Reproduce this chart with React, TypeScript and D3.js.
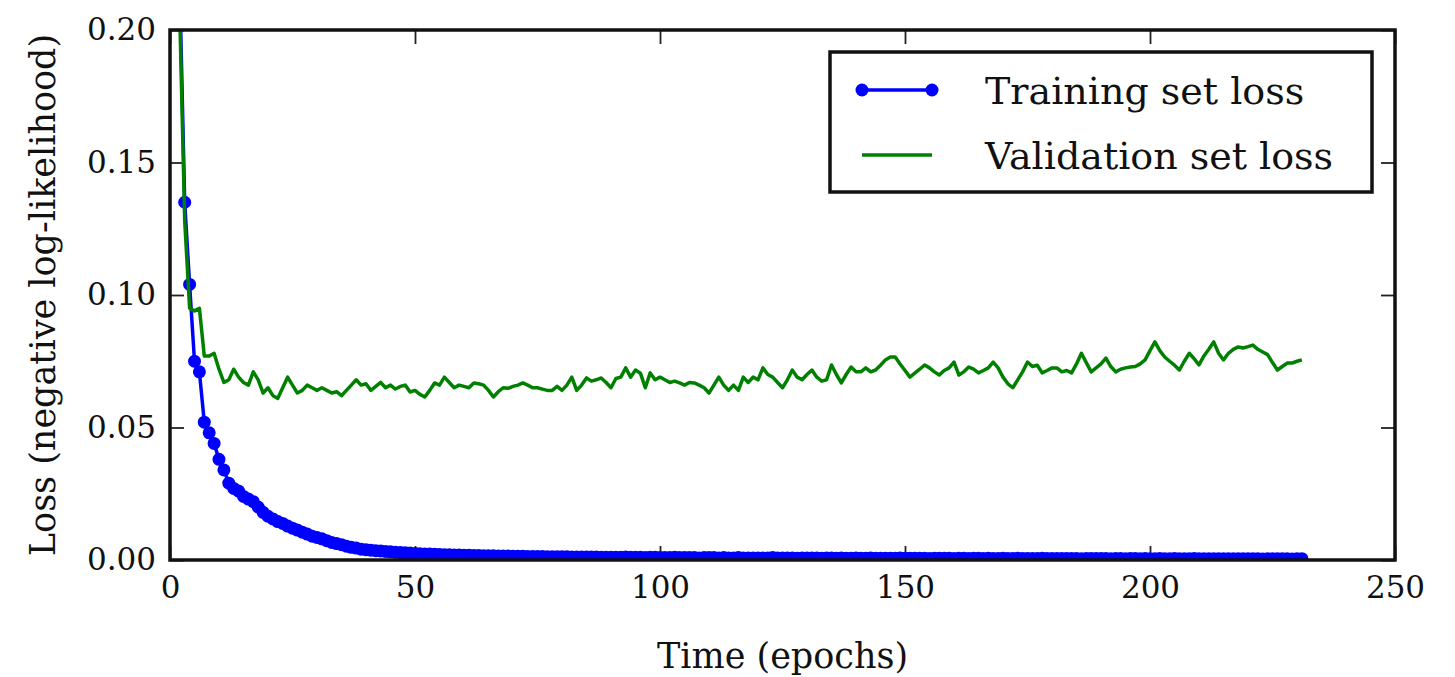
import React, { useEffect, useRef } from "react";
import * as d3 from "d3";

// loss per epoch (epoch 1 .. 231)
const trainingLoss = [
  0.45, 0.215, 0.135, 0.104, 0.075, 0.071, 0.052, 0.048, 0.044, 0.038,
  0.034, 0.029, 0.027, 0.026, 0.024, 0.023, 0.022, 0.02, 0.018, 0.0165,
  0.0155, 0.0145, 0.0138, 0.0128, 0.012, 0.0113, 0.0105, 0.0098, 0.009, 0.0085,
  0.008, 0.0073, 0.0066, 0.0062, 0.0058, 0.0052, 0.0048, 0.0045, 0.0041, 0.0039,
  0.0037, 0.0035, 0.0034, 0.0032, 0.0031, 0.0029, 0.0028, 0.0027, 0.0026, 0.0025,
  0.0024, 0.0023, 0.0023, 0.0022, 0.0021, 0.002, 0.002, 0.0019, 0.0019, 0.0018,
  0.0018, 0.0017, 0.0017, 0.0016, 0.0016, 0.0016, 0.0015, 0.0015, 0.0015, 0.0014,
  0.0014, 0.0014, 0.0013, 0.0013, 0.0013, 0.0013, 0.0012, 0.0012, 0.0012, 0.0012,
  0.0012, 0.0011, 0.0011, 0.0011, 0.0011, 0.0011, 0.0011, 0.001, 0.001, 0.001,
  0.001, 0.001, 0.0011, 0.001, 0.001, 0.001, 0.0009, 0.001, 0.001, 0.0009,
  0.0009, 0.0009, 0.001, 0.0009, 0.0009, 0.0009, 0.0009, 0.0008, 0.0009, 0.0009,
  0.0009, 0.0008, 0.0009, 0.0008, 0.0008, 0.0009, 0.0008, 0.0008, 0.0008, 0.0008,
  0.0008, 0.0008, 0.0009, 0.0008, 0.0008, 0.0008, 0.0008, 0.0007, 0.0008, 0.0008,
  0.0008, 0.0008, 0.0007, 0.0008, 0.0008, 0.0007, 0.0008, 0.0007, 0.0007, 0.0008,
  0.0007, 0.0007, 0.0008, 0.0007, 0.0007, 0.0007, 0.0007, 0.0007, 0.0008, 0.0007,
  0.0007, 0.0007, 0.0007, 0.0007, 0.0006, 0.0007, 0.0007, 0.0007, 0.0007, 0.0006,
  0.0007, 0.0007, 0.0006, 0.0007, 0.0007, 0.0006, 0.0007, 0.0006, 0.0006, 0.0007,
  0.0006, 0.0006, 0.0007, 0.0006, 0.0006, 0.0006, 0.0006, 0.0007, 0.0006, 0.0006,
  0.0006, 0.0006, 0.0006, 0.0006, 0.0006, 0.0005, 0.0006, 0.0006, 0.0006, 0.0006,
  0.0006, 0.0005, 0.0006, 0.0006, 0.0005, 0.0006, 0.0006, 0.0005, 0.0006, 0.0005,
  0.0005, 0.0006, 0.0005, 0.0005, 0.0006, 0.0005, 0.0005, 0.0005, 0.0006, 0.0005,
  0.0005, 0.0005, 0.0005, 0.0005, 0.0005, 0.0005, 0.0005, 0.0005, 0.0005, 0.0005,
  0.0005, 0.0005, 0.0004, 0.0005, 0.0005, 0.0005, 0.0005, 0.0005, 0.0004, 0.0005,
  0.0005,
];

const validationLoss = [
  0.33, 0.205, 0.128, 0.095, 0.094, 0.095, 0.077, 0.077, 0.078, 0.072,
  0.067, 0.068, 0.072, 0.069, 0.067, 0.066, 0.071, 0.068, 0.063, 0.065,
  0.062, 0.061, 0.065, 0.069, 0.066, 0.063, 0.064, 0.066, 0.065, 0.064,
  0.065, 0.064, 0.063, 0.0635, 0.062, 0.064, 0.066, 0.068, 0.066, 0.0665,
  0.064, 0.0655, 0.067, 0.065, 0.066, 0.0645, 0.0655, 0.066, 0.0634, 0.064,
  0.0625, 0.0615, 0.064, 0.0668, 0.066, 0.069, 0.067, 0.065, 0.066, 0.0655,
  0.065, 0.0668, 0.0665, 0.066, 0.064, 0.0615, 0.0635, 0.065, 0.0648, 0.0655,
  0.066, 0.0668, 0.066, 0.065, 0.065, 0.0645, 0.064, 0.064, 0.0655, 0.064,
  0.066, 0.069, 0.064, 0.066, 0.0687, 0.0675, 0.068, 0.0687, 0.067, 0.065,
  0.0685, 0.069, 0.0725, 0.069, 0.0717, 0.0705, 0.065, 0.0706, 0.068, 0.069,
  0.068, 0.067, 0.0675, 0.0668, 0.066, 0.067, 0.0668, 0.066, 0.065, 0.063,
  0.066, 0.069, 0.066, 0.064, 0.066, 0.064, 0.069, 0.067, 0.069, 0.068,
  0.0725, 0.07, 0.069, 0.067, 0.065, 0.068, 0.0717, 0.069, 0.068, 0.07,
  0.0717, 0.069, 0.0675, 0.068, 0.0736, 0.07, 0.0668, 0.07, 0.0728, 0.071,
  0.071, 0.0725, 0.071, 0.0717, 0.0735, 0.0755, 0.0766, 0.0766, 0.074, 0.0715,
  0.069, 0.0705, 0.072, 0.0736, 0.0725, 0.071, 0.0698, 0.0715, 0.0725, 0.0747,
  0.0698, 0.071, 0.0728, 0.072, 0.0706, 0.0715, 0.0725, 0.0747, 0.0725, 0.069,
  0.0665, 0.065, 0.068, 0.071, 0.0747, 0.073, 0.0735, 0.0706, 0.0715, 0.0725,
  0.0725, 0.071, 0.0715, 0.0706, 0.074, 0.078, 0.0745, 0.071, 0.0725, 0.074,
  0.0762, 0.073, 0.071, 0.072, 0.0725, 0.0728, 0.073, 0.074, 0.0755, 0.079,
  0.0823, 0.079, 0.0766, 0.075, 0.0735, 0.0717, 0.075, 0.078, 0.076, 0.0736,
  0.077, 0.0795, 0.0823, 0.078, 0.0755, 0.078, 0.0795, 0.0804, 0.08, 0.0805,
  0.0811, 0.0795, 0.0785, 0.0775, 0.0745, 0.0717, 0.073, 0.0743, 0.0743, 0.075,
  0.0755,
];

const seriesNames = ["Training set loss", "Validation set loss"];
const xTicks = [0, 50, 100, 150, 200, 250];
const yTicks = [0, 0.05, 0.1, 0.15, 0.2];

const FONT = "'DejaVu Serif', 'Liberation Serif', serif";

const App = () => {
  const ref = useRef<SVGSVGElement>(null);

  useEffect(() => {
    const width = 1455;
    const height = 677;
    const svg = d3.select(ref.current);
    svg.selectAll("*").remove();

    const margin = { top: 30, right: 60, bottom: 117, left: 170 };
    const innerWidth = width - margin.left - margin.right;
    const innerHeight = height - margin.top - margin.bottom;

    const x = d3.scaleLinear().domain([0, 250]).range([0, innerWidth]);
    const y = d3.scaleLinear().domain([0, 0.2]).range([innerHeight, 0]);

    const g = svg
      .append("g")
      .attr("transform", `translate(${margin.left}, ${margin.top})`);

    g.append("clipPath")
      .attr("id", "plot-clip")
      .append("rect")
      .attr("width", innerWidth)
      .attr("height", innerHeight);

    const styleAxis = (sel: any, withText: boolean) => {
      sel.select(".domain").remove();
      sel.selectAll(".tick line").attr("stroke", "#222").attr("stroke-width", 1.8);
      sel
        .selectAll(".tick text")
        .attr("fill", withText ? "#111" : "none")
        .style("font-family", FONT)
        .style("font-size", "31px");
    };

    const fmtY = d3.format(".2f");

    // bottom / left axes with labels, top / right only ticks (matplotlib classic)
    g.append("g")
      .attr("transform", `translate(0, ${innerHeight})`)
      .call(d3.axisBottom(x).tickValues(xTicks).tickSizeInner(-14).tickSizeOuter(0).tickPadding(16))
      .call((s: any) => styleAxis(s, true));
    g.append("g")
      .call(d3.axisLeft(y).tickValues(yTicks).tickFormat((d: any) => fmtY(d)).tickSizeInner(-14).tickSizeOuter(0).tickPadding(14))
      .call((s: any) => styleAxis(s, true));
    g.append("g")
      .call(d3.axisTop(x).tickValues(xTicks).tickFormat(() => "").tickSizeInner(-14).tickSizeOuter(0))
      .call((s: any) => styleAxis(s, false));
    g.append("g")
      .attr("transform", `translate(${innerWidth}, 0)`)
      .call(d3.axisRight(y).tickValues(yTicks).tickFormat(() => "").tickSizeInner(-14).tickSizeOuter(0))
      .call((s: any) => styleAxis(s, false));

    const line = d3
      .line<number>()
      .x((_, i) => x(i + 1))
      .y((d) => y(d));

    const plot = g.append("g").attr("clip-path", "url(#plot-clip)");

    plot
      .append("path")
      .datum(trainingLoss)
      .attr("fill", "none")
      .attr("stroke", "#0000ff")
      .attr("stroke-width", 3.5)
      .attr("d", line);

    plot
      .selectAll("circle.train")
      .data(trainingLoss)
      .enter()
      .append("circle")
      .attr("class", "train")
      .attr("cx", (_, i) => x(i + 1))
      .attr("cy", (d) => y(d))
      .attr("r", 6.5)
      .attr("fill", "#0000ff");

    plot
      .append("path")
      .datum(validationLoss)
      .attr("fill", "none")
      .attr("stroke", "#008000")
      .attr("stroke-width", 3.5)
      .attr("stroke-linejoin", "round")
      .attr("d", line);

    // frame
    g.append("rect")
      .attr("width", innerWidth)
      .attr("height", innerHeight)
      .attr("fill", "none")
      .attr("stroke", "#111")
      .attr("stroke-width", 3.5);

    // axis titles
    svg
      .append("text")
      .attr("x", margin.left + innerWidth / 2)
      .attr("y", 668)
      .attr("text-anchor", "middle")
      .style("font-family", FONT)
      .style("font-size", "35px")
      .attr("fill", "#111")
      .text("Time (epochs)");

    svg
      .append("text")
      .attr("transform", `translate(55, ${margin.top + innerHeight / 2}) rotate(-90)`)
      .attr("text-anchor", "middle")
      .style("font-family", FONT)
      .style("font-size", "35px")
      .attr("fill", "#111")
      .text("Loss (negative log-likelihood)");

    // legend
    const legend = svg.append("g").attr("transform", "translate(830, 52)");
    legend
      .append("rect")
      .attr("width", 542)
      .attr("height", 140)
      .attr("fill", "#fff")
      .attr("stroke", "#111")
      .attr("stroke-width", 3.5);

    const colors = ["#0000ff", "#008000"];
    seriesNames.forEach((name, i) => {
      const row = legend.append("g").attr("transform", `translate(0, ${38 + i * 65})`);
      row
        .append("line")
        .attr("x1", 32)
        .attr("x2", 102)
        .attr("stroke", colors[i])
        .attr("stroke-width", 3.5);
      if (i === 0) {
        [32, 102].forEach((cx) =>
          row.append("circle").attr("cx", cx).attr("r", 6.5).attr("fill", colors[i])
        );
      }
      row
        .append("text")
        .attr("x", 155)
        .attr("y", 14)
        .style("font-family", FONT)
        .style("font-size", "38px")
        .attr("fill", "#111")
        .text(name);
    });
  }, []);

  return (
    <svg
      ref={ref}
      width={1455}
      height={677}
      style={{ position: "absolute", left: 0, top: 0, background: "#fff" }}
    />
  );
};

export default App;
